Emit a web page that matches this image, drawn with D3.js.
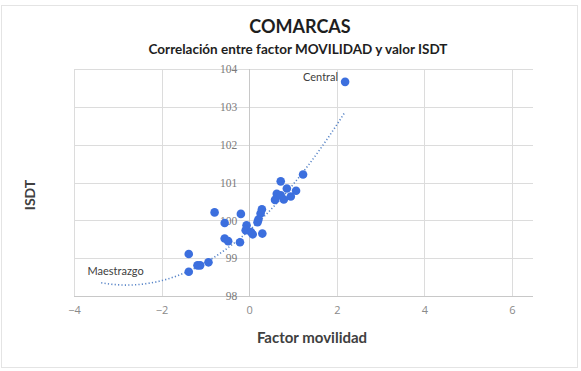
<!DOCTYPE html>
<html>
<head>
<meta charset="utf-8">
<script src="https://cdn.jsdelivr.net/npm/d3@7"></script>
<style>
  html, body { margin: 0; padding: 0; background: #fff; }
  svg { display: block; }
</style>
</head>
<body>
<svg id="chart" width="581" height="371"></svg>
<script>
// ---- data ----
const factorMovilidad = [1.23, 0.72, 0.86, 0.63, 1.07, 0.95, 0.79, 0.59, 0.72, 0.29, 0.26, 0.21, 0.19,
  -0.19, -0.79, -0.56, -0.06, -0.08, 0.04, 0.08, 0.30, -0.56, -0.48, -0.21,
  -1.38, -0.93, -1.12, -1.18, -1.38, 2.19];
const valorISDT = [101.21, 101.03, 100.84, 100.70, 100.78, 100.63, 100.55, 100.54, 100.66, 100.29, 100.18, 100.02, 99.95,
  100.17, 100.21, 99.93, 99.87, 99.74, 99.69, 99.63, 99.65, 99.52, 99.45, 99.42,
  99.11, 98.89, 98.81, 98.81, 98.64, 103.66];
const pointLabels = ["", "", "", "", "", "", "", "", "", "", "", "", "",
  "", "", "", "", "", "", "", "", "", "", "",
  "", "", "", "", "Maestrazgo", "Central"];
const xTicks = [-4, -2, 0, 2, 4, 6];
const yTicks = [98, 99, 100, 101, 102, 103, 104];
const titleText = "COMARCAS";
const subtitleText = "Correlación entre factor MOVILIDAD y valor ISDT";
const xTitle = "Factor movilidad";
const yTitle = "ISDT";
// order-2 polynomial trendline y = c0 + c1*x + c2*x^2 (coefficients)
const trendCoef = [99.73, 1.03, 0.184];
const trendBackwardForecast = 2; // trendline extended backward (units of x)

// ---- drawing ----
const svg = d3.select("#chart");
const W = 581, H = 371;

svg.append("rect").attr("x", 1.5).attr("y", 5.5).attr("width", W - 5).attr("height", H - 9)
  .attr("fill", "#fff").attr("stroke", "#e4e4e4").attr("stroke-width", 1);

const x = d3.scaleLinear().domain([-4, 6.48]).range([74, 533]);
const y = d3.scaleLinear().domain([98, 104]).range([296, 69]);

// gridlines
const grid = svg.append("g");
grid.selectAll(".h").data(yTicks).join("line")
  .attr("x1", x.range()[0]).attr("x2", x.range()[1])
  .attr("y1", d => Math.round(y(d)) + 0.5).attr("y2", d => Math.round(y(d)) + 0.5)
  .attr("stroke", d => d === 98 ? "#c8c8c8" : "#dcdcdc").attr("stroke-width", 1);
grid.selectAll(".v").data(xTicks).join("line")
  .attr("x1", d => Math.round(x(d)) + 0.5).attr("x2", d => Math.round(x(d)) + 0.5)
  .attr("y1", y.range()[1]).attr("y2", y.range()[0])
  .attr("stroke", d => d === 0 ? "#c8c8c8" : "#dcdcdc").attr("stroke-width", 1);

// x axis labels
const xAxis = d3.axisBottom(x).tickValues(xTicks).tickSize(0).tickPadding(10).tickFormat(d3.format("d"));
const gx = svg.append("g").attr("transform", `translate(0,${y(98)})`).call(xAxis);
gx.select(".domain").remove();
gx.selectAll("text").attr("fill", "#8a8a8a").attr("font-family", "'Open Sans', sans-serif").attr("font-size", 11);

// y axis labels (axis crosses at x = 0)
const yAxis = d3.axisLeft(y).tickValues(yTicks).tickSize(0).tickPadding(12).tickFormat(d3.format("d"));
const gy = svg.append("g").attr("transform", `translate(${x(0)},0)`).call(yAxis);
gy.select(".domain").remove();
gy.selectAll("text").attr("fill", "#7a7a7a").attr("font-family", "'Liberation Serif', serif").attr("font-size", 11.5);

// trendline
const xmin = d3.min(factorMovilidad) - trendBackwardForecast, xmax = d3.max(factorMovilidad);
const trendXs = d3.range(xmin, xmax + 0.001, (xmax - xmin) / 80);
const line = d3.line().x(d => x(d)).y(d => y(trendCoef[0] + trendCoef[1] * d + trendCoef[2] * d * d));
svg.append("path").datum(trendXs).attr("d", line)
  .attr("fill", "none").attr("stroke", "#5a86c8").attr("stroke-width", 1.6)
  .attr("stroke-dasharray", "1.2,2.2");

// points
const pts = factorMovilidad.map((v, i) => ({ x: v, y: valorISDT[i], label: pointLabels[i] }));
svg.append("g").selectAll("circle").data(pts).join("circle")
  .attr("cx", d => x(d.x)).attr("cy", d => y(d.y)).attr("r", 4.3)
  .attr("fill", "#3c6fde");

// data labels
svg.append("g").selectAll("text").data(pts.filter(d => d.label)).join("text")
  .attr("x", d => d.label === "Central" ? x(d.x) - 7 : x(d.x) - 45)
  .attr("y", d => d.label === "Central" ? y(d.y) - 1 : y(d.y) + 3)
  .attr("text-anchor", "end")
  .attr("font-family", "Lato, 'Open Sans', sans-serif").attr("font-size", 11)
  .attr("fill", "#404040").text(d => d.label);

// titles
svg.append("text").attr("x", 300).attr("y", 33).attr("text-anchor", "middle")
  .attr("font-family", "Lato, sans-serif").attr("font-weight", "bold").attr("font-size", 18)
  .attr("fill", "#1e1e1e").text(titleText);
svg.append("text").attr("x", 298).attr("y", 54).attr("text-anchor", "middle")
  .attr("font-family", "Lato, sans-serif").attr("font-weight", "bold").attr("font-size", 13.5)
  .attr("fill", "#1e1e1e").text(subtitleText);
svg.append("text").attr("x", 312).attr("y", 343).attr("text-anchor", "middle")
  .attr("font-family", "Lato, sans-serif").attr("font-weight", "bold").attr("font-size", 15)
  .attr("fill", "#404040").text(xTitle);
svg.append("text").attr("transform", "translate(35,195) rotate(-90)").attr("text-anchor", "middle")
  .attr("font-family", "Lato, sans-serif").attr("font-weight", "bold").attr("font-size", 14)
  .attr("fill", "#404040").text(yTitle);
</script>
</body>
</html>
